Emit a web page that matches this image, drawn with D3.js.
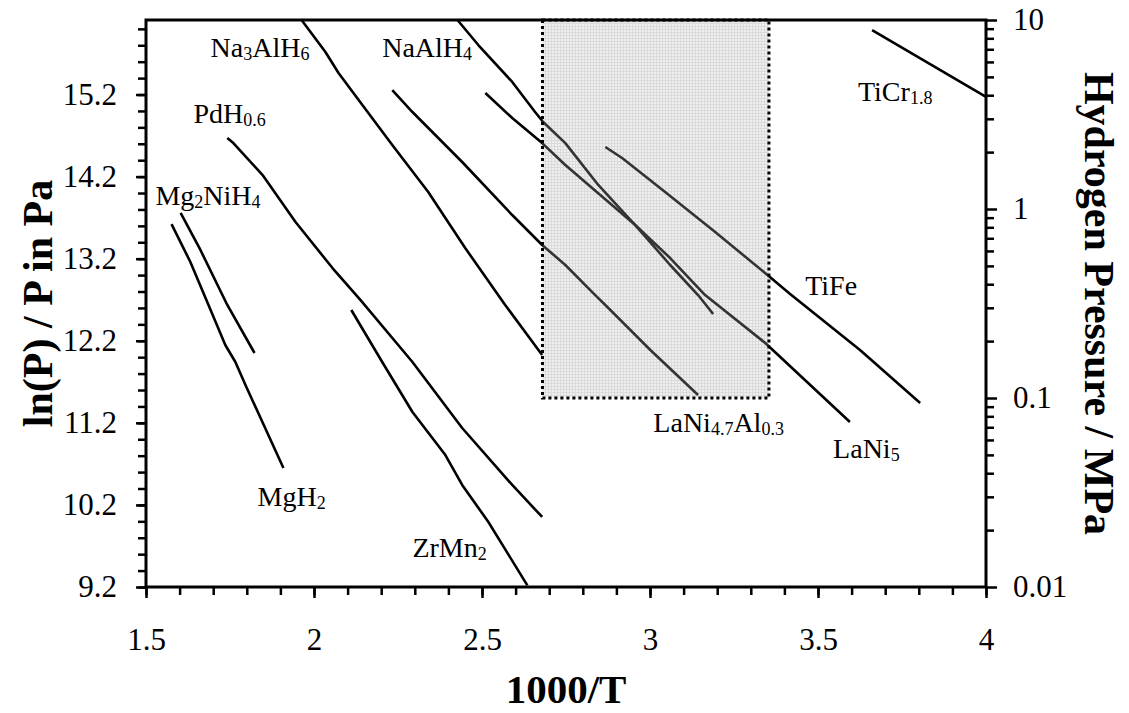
<!DOCTYPE html>
<html>
<head>
<meta charset="utf-8">
<script src="https://cdn.jsdelivr.net/npm/d3@7"></script>
<style>
  body { margin: 0; background: #fff; }
  svg { display: block; font-family: "Liberation Serif", "Times New Roman", serif; }
</style>
</head>
<body>
<div id="chart"></div>
<script>
// Van 't Hoff lines: x = 1000/T, y = ln(P / Pa)
const mgh2X = [1.576, 1.632, 1.686, 1.736, 1.766, 1.796, 1.841, 1.909];
const mgh2Y = [13.622, 13.160, 12.636, 12.148, 11.941, 11.661, 11.259, 10.650];

const mg2nih4X = [1.603, 1.662, 1.742, 1.823];
const mg2nih4Y = [13.757, 13.306, 12.636, 12.051];

const pdhX = [1.742, 1.760, 1.847, 1.945, 2.055, 2.138, 2.293, 2.441, 2.590, 2.679];
const pdhY = [14.670, 14.608, 14.219, 13.647, 13.086, 12.697, 11.941, 11.137, 10.443, 10.053];

const zrmn2X = [2.111, 2.203, 2.293, 2.391, 2.441, 2.519, 2.635];
const zrmn2Y = [12.575, 11.941, 11.332, 10.808, 10.443, 9.992, 9.220];

const na3alh6X = [1.963, 2.034, 2.073, 2.144, 2.233, 2.340, 2.450, 2.569, 2.679];
const na3alh6Y = [16.108, 15.718, 15.462, 15.072, 14.584, 14.013, 13.330, 12.636, 12.026];

const naalh4X = [2.427, 2.489, 2.590, 2.658, 2.682, 2.748, 2.846, 2.956, 3.060, 3.143, 3.188];
const naalh4Y = [16.108, 15.803, 15.353, 14.987, 14.865, 14.608, 14.098, 13.610, 13.123, 12.757, 12.526];

const lani5X = [2.510, 2.590, 2.679, 2.748, 2.852, 2.956, 3.060, 3.164, 3.343, 3.595];
const lani5Y = [15.219, 14.914, 14.608, 14.341, 13.976, 13.610, 13.208, 12.757, 12.173, 11.210];

const lanialX = [2.233, 2.293, 2.441, 2.590, 2.679, 2.748, 2.837, 2.876, 3.001, 3.143];
const lanialY = [15.255, 14.987, 14.378, 13.732, 13.367, 13.123, 12.757, 12.599, 12.087, 11.539];

const tifeX = [2.867, 2.917, 3.045, 3.194, 3.346, 3.417, 3.625, 3.804];
const tifeY = [14.561, 14.427, 14.013, 13.525, 13.013, 12.770, 12.087, 11.442];

const ticrX = [3.661, 4.000];
const ticrY = [15.986, 15.170];

// Labels: pieces of text ([string, isSubscript]) and where they sit in data units
const labelParts = [
    [["Na", 0], ["3", 1], ["AlH", 0], ["6", 1]],
    [["NaAlH", 0], ["4", 1]],
    [["PdH", 0], ["0.6", 1]],
    [["Mg", 0], ["2", 1], ["NiH", 0], ["4", 1]],
    [["MgH", 0], ["2", 1]],
    [["ZrMn", 0], ["2", 1]],
    [["LaNi", 0], ["4.7", 1], ["Al", 0], ["0.3", 1]],
    [["LaNi", 0], ["5", 1]],
    [["TiFe", 0]],
    [["TiCr", 0], ["1.8", 1]]
];
const labelX = [1.692, 2.203, 1.641, 1.528, 1.832, 2.293, 3.010, 3.545, 3.462, 3.619];
const labelY = [15.657, 15.657, 14.853, 13.854, 10.187, 9.565, 11.088, 10.772, 12.757, 15.121];

// Axis ticks
const xTicks = [1.5, 2, 2.5, 3, 3.5, 4];
const leftTicks = [9.2, 10.2, 11.2, 12.2, 13.2, 14.2, 15.2];
const rightTicks = [0.01, 0.1, 1, 10];

// Shaded window: 25-100 degC (1000/T) and 0.1-10 MPa
const boxX = [2.68, 3.354];
const boxMPa = [0.1, 10];

function drawChart() {
    const width = 1129, height = 713;
    const margin = { top: 20, right: 143, bottom: 126, left: 146 };
    const w = width - margin.left - margin.right;
    const h = height - margin.top - margin.bottom;

    const svg = d3.select("#chart").append("svg")
        .attr("width", width)
        .attr("height", height);

    const g = svg.append("g")
        .attr("transform", `translate(${margin.left},${margin.top})`);

    const x = d3.scaleLinear().domain([1.5, 4]).range([0, w]);
    const yLn = d3.scaleLinear().domain([9.2, 16.108]).range([h, 0]);
    const yMPa = d3.scaleLog().domain([0.01, 10]).range([h, 0]);

    // grid texture for the shaded window
    const pat = svg.append("defs").append("pattern")
        .attr("id", "grid")
        .attr("patternUnits", "userSpaceOnUse")
        .attr("width", 3).attr("height", 3);
    pat.append("rect").attr("width", 3).attr("height", 3).attr("fill", "#ececec");
    pat.append("path").attr("d", "M0 0.5H3M0.5 0V3")
        .attr("stroke", "#d2d2d2").attr("stroke-width", 1);

    const bx = x(boxX[0]), bw = x(boxX[1]) - x(boxX[0]);
    const by = yMPa(boxMPa[1]), bh = yMPa(boxMPa[0]) - yMPa(boxMPa[1]);

    g.append("rect")
        .attr("x", bx).attr("y", by).attr("width", bw).attr("height", bh)
        .attr("fill", "url(#grid)");

    // the curves
    const series = [
        [mgh2X, mgh2Y], [mg2nih4X, mg2nih4Y], [pdhX, pdhY], [zrmn2X, zrmn2Y],
        [na3alh6X, na3alh6Y], [naalh4X, naalh4Y], [lani5X, lani5Y],
        [lanialX, lanialY], [tifeX, tifeY], [ticrX, ticrY]
    ].map(([xs, ys]) => xs.map((v, i) => [v, ys[i]]));

    const line = d3.line()
        .x(d => x(d[0]))
        .y(d => yLn(d[1]));

    g.selectAll("path.curve")
        .data(series)
        .enter()
        .append("path")
        .attr("class", "curve")
        .attr("d", line)
        .attr("fill", "none")
        .attr("stroke", "#000")
        .attr("stroke-width", 2.6)
        .attr("stroke-linejoin", "round");

    // veil so curves read grey inside the window
    g.append("rect")
        .attr("x", bx).attr("y", by).attr("width", bw).attr("height", bh)
        .attr("fill", "#fff").attr("fill-opacity", 0.2);

    g.append("rect")
        .attr("x", bx).attr("y", by).attr("width", bw).attr("height", bh)
        .attr("fill", "none")
        .attr("stroke", "#000")
        .attr("stroke-width", 3)
        .attr("stroke-dasharray", "3 3");

    // frame
    g.append("rect")
        .attr("width", w).attr("height", h)
        .attr("fill", "none")
        .attr("stroke", "#000")
        .attr("stroke-width", 3);

    const tickStyle = (sel, fontSize) => {
        sel.select(".domain").remove();
        sel.selectAll(".tick line").attr("stroke", "#000").attr("stroke-width", 2.5);
        sel.selectAll(".tick text")
            .attr("fill", "#000")
            .attr("font-size", fontSize)
            .attr("font-family", "'Liberation Serif', 'Times New Roman', serif");
        sel.attr("font-size", null).attr("font-family", null);
    };

    // x axis
    const xMinor = d3.range(15, 41).map(i => i / 10);
    g.append("g").attr("transform", `translate(0,${h})`)
        .call(d3.axisBottom(x).tickValues(xMinor).tickSize(8).tickFormat(""))
        .call(tickStyle, 31);
    g.append("g").attr("transform", `translate(0,${h})`)
        .call(d3.axisBottom(x).tickValues(xTicks).tickSize(11).tickPadding(30).tickFormat(d => d))
        .call(tickStyle, 31);

    // left axis
    const leftMinor = d3.range(0, 35).map(i => 9.2 + i * 0.2);
    g.append("g")
        .call(d3.axisLeft(yLn).tickValues(leftMinor).tickSize(8).tickFormat(""))
        .call(tickStyle, 31);
    g.append("g")
        .call(d3.axisLeft(yLn).tickValues(leftTicks).tickSize(10).tickPadding(19).tickFormat(d3.format(".1f")))
        .call(tickStyle, 31);

    // right axis (log MPa)
    const rightMinor = [];
    [0.01, 0.1, 1].forEach(dec => d3.range(2, 10).forEach(k => rightMinor.push(dec * k)));
    g.append("g").attr("transform", `translate(${w},0)`)
        .call(d3.axisRight(yMPa).tickValues(rightMinor).tickSize(8).tickFormat(""))
        .call(tickStyle, 31);
    g.append("g").attr("transform", `translate(${w},0)`)
        .call(d3.axisRight(yMPa).tickValues(rightTicks).tickSize(11).tickPadding(16).tickFormat(d => d))
        .call(tickStyle, 31);

    // curve labels with subscripts
    labelParts.forEach((parts, i) => {
        const t = g.append("text")
            .attr("x", x(labelX[i]))
            .attr("y", yLn(labelY[i]))
            .attr("font-size", 28)
            .attr("fill", "#000");
        let down = false;
        parts.forEach(([s, sub]) => {
            const ts = t.append("tspan").text(s).attr("font-size", sub ? 18 : 28);
            if (sub && !down) { ts.attr("dy", 3); down = true; }
            else if (!sub && down) { ts.attr("dy", -3); down = false; }
        });
    });

    // axis titles
    svg.append("text")
        .attr("x", margin.left + w / 2)
        .attr("y", 703)
        .attr("text-anchor", "middle")
        .attr("font-weight", "bold")
        .attr("font-size", 41)
        .text("1000/T");

    svg.append("text")
        .attr("transform", `translate(52,${margin.top + h / 2}) rotate(-90)`)
        .attr("text-anchor", "middle")
        .attr("font-weight", "bold")
        .attr("font-size", 42)
        .text("ln(P) / P in Pa");

    svg.append("text")
        .attr("transform", `translate(1085,${margin.top + h / 2}) rotate(90)`)
        .attr("text-anchor", "middle")
        .attr("font-weight", "bold")
        .attr("font-size", 42)
        .text("Hydrogen Pressure / MPa");
}

drawChart();
</script>
</body>
</html>
